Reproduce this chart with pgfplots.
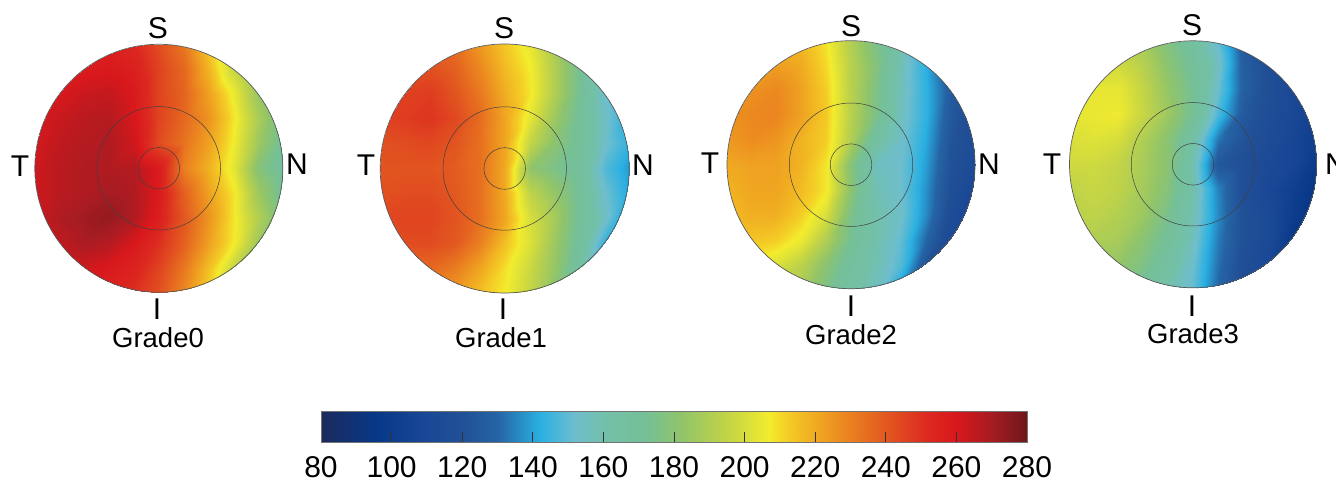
\documentclass[border=0pt]{standalone}
\usepackage{fontspec}
\setmainfont{Liberation Sans}
\usepackage{pgfplots}
\usepackage{pgfplotstable}
\pgfplotsset{compat=1.18}

\pgfplotsset{
    colormap={oct}{
        rgb255(80)=(28,42,92) rgb255(96)=(8,56,136) rgb255(110)=(26,72,150)
        rgb255(120)=(33,80,150) rgb255(130)=(37,100,165) rgb255(142)=(42,176,226)
        rgb255(152)=(110,190,205) rgb255(160)=(115,192,170) rgb255(172)=(117,192,150)
        rgb255(182)=(144,196,106) rgb255(195)=(195,212,70) rgb255(207)=(243,236,45)
        rgb255(212)=(244,205,38) rgb255(220)=(240,170,33) rgb255(230)=(234,128,32)
        rgb255(240)=(226,88,32) rgb255(252)=(220,40,32) rgb255(260)=(216,24,28)
        rgb255(270)=(165,28,34) rgb255(280)=(110,22,28)
    }
}

% thickness on an 11x11 grid, 25 px apart, centred on the disc: one grid row per line
\pgfplotstableread[row sep=\\]{v\\
254\\255\\256\\256\\252\\243\\232\\212\\190\\175\\165\\
256\\257\\258\\259\\256\\245\\236\\217\\195\\178\\168\\
258\\260\\263\\264\\259\\245\\237\\222\\205\\183\\170\\
260\\263\\266\\267\\260\\245\\236\\225\\208\\188\\172\\
261\\265\\267\\268\\262\\243\\233\\222\\206\\185\\170\\
262\\266\\268\\268\\267\\258\\230\\218\\203\\178\\168\\
262\\266\\268\\270\\268\\258\\238\\222\\208\\185\\170\\
263\\268\\271\\273\\268\\256\\240\\225\\208\\190\\175\\
260\\265\\269\\267\\260\\250\\238\\222\\207\\185\\172\\
257\\260\\262\\259\\255\\245\\232\\215\\195\\178\\168\\
254\\256\\258\\255\\250\\242\\228\\210\\190\\175\\165\\
}\gradezero

\pgfplotstableread[row sep=\\]{v\\
238\\238\\236\\234\\224\\213\\204\\188\\170\\155\\140\\
242\\242\\242\\238\\228\\216\\207\\190\\172\\150\\140\\
245\\246\\247\\241\\232\\219\\208\\190\\172\\152\\140\\
246\\247\\249\\244\\235\\221\\203\\185\\170\\154\\140\\
242\\243\\244\\241\\234\\221\\195\\180\\170\\153\\143\\
241\\241\\241\\239\\234\\220\\182\\175\\168\\148\\138\\
242\\243\\243\\240\\234\\220\\194\\183\\170\\152\\140\\
244\\245\\245\\241\\234\\221\\200\\187\\170\\154\\135\\
242\\243\\243\\240\\230\\215\\201\\185\\168\\143\\133\\
236\\236\\236\\231\\221\\209\\197\\183\\165\\140\\132\\
230\\230\\228\\224\\215\\207\\195\\180\\162\\138\\130\\
}\gradeone

\pgfplotstableread[row sep=\\]{v\\
220\\220\\218\\216\\208\\190\\175\\160\\140\\122\\115\\
224\\224\\223\\220\\210\\192\\178\\157\\142\\124\\116\\
225\\226\\228\\222\\212\\192\\176\\156\\143\\126\\116\\
226\\228\\229\\222\\213\\192\\175\\155\\143\\124\\115\\
224\\227\\225\\218\\212\\190\\165\\153\\141\\122\\115\\
220\\222\\222\\218\\208\\178\\155\\152\\139\\120\\112\\
218\\221\\221\\216\\208\\180\\158\\152\\137\\118\\108\\
216\\219\\219\\212\\200\\175\\160\\153\\136\\115\\105\\
212\\214\\212\\205\\190\\172\\160\\150\\130\\112\\105\\
205\\206\\201\\193\\180\\167\\158\\148\\122\\110\\105\\
195\\195\\192\\188\\175\\165\\155\\137\\118\\108\\105\\
}\gradetwo

\pgfplotstableread[row sep=\\]{v\\
192\\192\\190\\186\\176\\167\\150\\125\\117\\110\\104\\
198\\198\\198\\192\\180\\170\\155\\127\\118\\110\\104\\
202\\204\\204\\195\\183\\172\\152\\128\\118\\110\\103\\
203\\205\\206\\196\\185\\172\\147\\125\\117\\110\\102\\
200\\202\\200\\190\\180\\163\\133\\122\\115\\108\\100\\
198\\198\\195\\188\\180\\158\\124\\118\\112\\108\\97\\
194\\196\\194\\187\\178\\160\\135\\118\\110\\102\\93\\
192\\194\\191\\185\\174\\158\\136\\120\\112\\100\\92\\
188\\190\\188\\180\\170\\155\\134\\120\\112\\96\\92\\
183\\185\\183\\176\\165\\152\\132\\118\\110\\96\\92\\
175\\178\\176\\170\\160\\150\\130\\117\\108\\96\\92\\
}\gradethree

% #1 table, #2 cx, #3 cy, #4 radius
\newcommand{\disc}[4]{
    \begin{scope}
    \clip (axis cs:#2,#3) circle [radius=#4];
    \addplot[surf, shader=interp, mesh/rows=11, mesh/cols=11, point meta=\thisrow{v}]
        table[x index=0, y index=0, x expr={mod(\coordindex,11)*25-125+#2}, y expr={floor(\coordindex/11)*25-125+#3}] {#1};
    \end{scope}
    \draw[black!65, line width=0.7pt] (axis cs:#2,#3) circle [radius=#4];
    \draw[black!75, line width=0.5pt] (axis cs:#2,#3) circle [radius=61.7];
    \draw[black!75, line width=0.5pt] (axis cs:#2,#3) circle [radius=20.8];
}
\newcommand{\lab}[3]{\node[font=\fontsize{30}{32}\selectfont, inner sep=0pt] at (axis cs:#1,#2) {#3};}
\newcommand{\grade}[3]{\node[font=\fontsize{27.5}{30}\selectfont, inner sep=0pt] at (axis cs:#1,#2) {#3};}

\begin{document}
\begin{tikzpicture}
\useasboundingbox (0,0) rectangle (1336pt,478pt);
\begin{axis}[
    at={(0,0)}, anchor=south west,
    scale only axis, width=1336pt, height=478pt,
    xmin=0, xmax=1336, ymin=0, ymax=478, y dir=reverse,
    hide axis, clip=false,
    colormap name=oct, point meta min=80, point meta max=280,
]
\disc{\gradezero}{158.8}{168.3}{124}
\disc{\gradeone}{504.7}{168.5}{124.5}
\disc{\gradetwo}{851}{164.7}{124}
\disc{\gradethree}{1193}{164.3}{123.5}

\lab{158}{28}{S} \lab{20}{166}{T} \lab{297}{164}{N} \lab{157}{309}{I} \grade{158}{338}{Grade0}
\lab{504}{28}{S} \lab{366}{165}{T} \lab{643}{165}{N} \lab{503}{309}{I} \grade{501}{338}{Grade1}
\lab{851}{26}{S} \lab{710}{163}{T} \lab{989}{164}{N} \lab{851}{306}{I} \grade{851}{335}{Grade2}
\lab{1192}{25}{S} \lab{1052}{164}{T} \lab{1336}{164}{N} \lab{1192}{306}{I} \grade{1193}{334}{Grade3}
\end{axis}

% scale bar
\begin{axis}[
    at={(321pt,35pt)}, anchor=south west,
    scale only axis, width=706pt, height=31pt,
    xmin=80, xmax=280, ymin=0, ymax=1,
    colormap name=oct, point meta min=80, point meta max=280,
    xtick={80,100,...,280}, ytick=\empty,
    xtick pos=bottom, tick align=inside,
    major tick length=11pt,
    tick style={black!80, line width=0.7pt},
    axis line style={black!55, line width=1pt},
    axis on top,
    xticklabel shift=13pt,
    /pgf/number format/assume math mode=true,
    tick label style={font=\fontsize{30}{32}\selectfont, inner sep=0pt},
]
\addplot[surf, shader=interp, mesh/cols=2, point meta=x] coordinates {
    (80,0) (280,0)
    (80,1) (280,1)
};
\end{axis}
\end{tikzpicture}
\end{document}
